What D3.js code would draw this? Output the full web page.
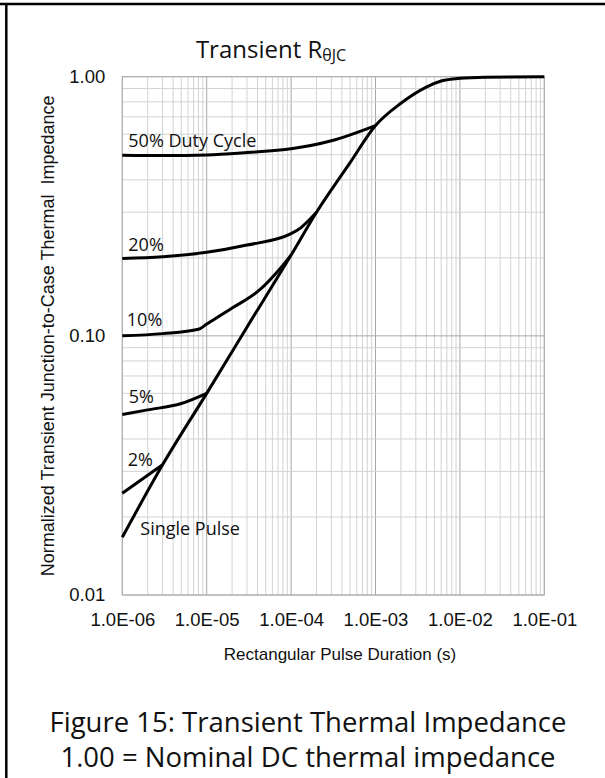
<!DOCTYPE html>
<html>
<head>
<meta charset="utf-8">
<script src="https://cdn.jsdelivr.net/npm/d3@7"></script>
<style>
  body { margin: 0; background: #fff; }
  .tick text { font-family: "Liberation Sans", Arial, sans-serif; fill: #111; }
</style>
</head>
<body>
<svg id="chart" width="605" height="778"></svg>
<script>
// tick values and their labels
var xTicks = [1e-6, 1e-5, 1e-4, 1e-3, 1e-2, 1e-1];
var xTickLabels = ["1.0E-06", "1.0E-05", "1.0E-04", "1.0E-03", "1.0E-02", "1.0E-01"];
var yTicks = [0.01, 0.1, 1];
var yTickLabels = ["0.01", "0.10", "1.00"];

// pulse duration (s) and normalized Zth
var singleT = [1e-6, 3e-6, 1e-5, 3e-5, 1e-4, 2e-4, 5e-4, 1e-3, 2e-3, 4e-3, 6e-3, 1e-2, 2e-2, 1e-1];
var singleZ = [0.0167, 0.0318, 0.060, 0.108, 0.205, 0.300, 0.466, 0.648, 0.790, 0.912, 0.962, 0.986, 0.996, 1.0];

var duty50T = [1e-6, 3e-6, 1e-5, 3e-5, 1e-4, 3e-4, 1e-3];
var duty50Z = [0.498, 0.496, 0.499, 0.510, 0.527, 0.566, 0.648];

var duty20T = [1e-6, 3e-6, 1e-5, 3e-5, 1e-4, 1.3e-4, 1.6e-4, 2e-4];
var duty20Z = [0.199, 0.202, 0.210, 0.224, 0.248, 0.261, 0.278, 0.300];

var duty10T = [1e-6, 3e-6, 8e-6, 1e-5, 2e-5, 4.3e-5, 7e-5, 1e-4];
var duty10Z = [0.100, 0.102, 0.106, 0.111, 0.128, 0.151, 0.178, 0.205];

var duty5T = [1e-6, 2e-6, 5e-6, 1e-5];
var duty5Z = [0.0497, 0.0518, 0.0548, 0.060];

var duty2T = [1e-6, 2e-6, 3e-6];
var duty2Z = [0.0247, 0.029, 0.0318];

var seriesNames = ["50% Duty Cycle", "20%", "10%", "5%", "2%", "Single Pulse"];

var series = [
  {name: seriesNames[0], t: duty50T, z: duty50Z, dx: 6, dy: -8},
  {name: seriesNames[1], t: duty20T, z: duty20Z, dx: 6, dy: -7},
  {name: seriesNames[2], t: duty10T, z: duty10Z, dx: 4.5, dy: -10},
  {name: seriesNames[3], t: duty5T, z: duty5Z, dx: 6.5, dy: -12},
  {name: seriesNames[4], t: duty2T, z: duty2Z, dx: 5.5, dy: -27},
  {name: seriesNames[5], t: singleT, z: singleZ, dx: 18, dy: -2}
];

var svg = d3.select("#chart");
var margin = {top: 76.7, left: 122.3};
var width = 422, height = 518.3;

// page frame (top and left rule)
svg.append("line").attr("x1", 0).attr("x2", 605).attr("y1", 4).attr("y2", 4)
  .attr("stroke", "#000").attr("stroke-width", 2.5);
svg.append("line").attr("x1", 6.3).attr("x2", 6.3).attr("y1", 3).attr("y2", 778)
  .attr("stroke", "#000").attr("stroke-width", 2.5);

var x = d3.scaleLog().domain([1e-6, 1e-1]).range([0, width]);
var y = d3.scaleLog().domain([0.01, 1]).range([height, 0]);

var g = svg.append("g").attr("transform", "translate(" + margin.left + "," + margin.top + ")");

function isMajor(v) {
  var l = Math.log10(v);
  return Math.abs(l - Math.round(l)) < 1e-9;
}

// grid
g.append("g").selectAll("line").data(x.ticks())
  .join("line")
  .attr("x1", d => x(d)).attr("x2", d => x(d))
  .attr("y1", 0).attr("y2", height)
  .attr("stroke", d => isMajor(d) ? "#a8a8a8" : "#d2d2d2")
  .attr("stroke-width", 1);
g.append("g").selectAll("line").data(y.ticks())
  .join("line")
  .attr("y1", d => y(d)).attr("y2", d => y(d))
  .attr("x1", 0).attr("x2", width)
  .attr("stroke", d => isMajor(d) ? "#a8a8a8" : "#d2d2d2")
  .attr("stroke-width", 1);
g.append("rect").attr("width", width).attr("height", height)
  .attr("fill", "none").attr("stroke", "#b0b0b0").attr("stroke-width", 1);

// axes (labels only)
var xAxis = d3.axisBottom(x).tickValues(xTicks).tickSize(0).tickPadding(18)
  .tickFormat((d, i) => xTickLabels[i]);
var gx = g.append("g").attr("transform", "translate(0," + height + ")").call(xAxis);
gx.select(".domain").remove();
gx.selectAll("text").attr("font-size", 18.5);

var yAxis = d3.axisLeft(y).tickValues(yTicks).tickSize(0).tickPadding(17)
  .tickFormat((d, i) => yTickLabels[i]);
var gy = g.append("g").call(yAxis);
gy.select(".domain").remove();
gy.selectAll("text").attr("font-size", 18.5);

// curves
var line = d3.line()
  .x(d => x(d[0]))
  .y(d => y(d[1]))
  .curve(d3.curveMonotoneX);

series.forEach(function(s) {
  var pts = s.t.map((t, i) => [t, s.z[i]]);
  g.append("path").datum(pts)
    .attr("d", line)
    .attr("fill", "none")
    .attr("stroke", "#000")
    .attr("stroke-width", 3)
    .attr("stroke-linejoin", "round");
  g.append("text")
    .attr("x", x(s.t[0]) + s.dx)
    .attr("y", y(s.z[0]) + s.dy)
    .attr("font-family", "'Open Sans', 'Noto Sans', sans-serif")
    .attr("font-size", 18)
    .attr("fill", "#111")
    .text(s.name);
});

// titles
var title = svg.append("text")
  .attr("x", 271).attr("y", 58)
  .attr("text-anchor", "middle")
  .attr("font-family", "'Open Sans', 'Noto Sans', sans-serif")
  .attr("font-size", 24)
  .attr("fill", "#111");
title.append("tspan").text("Transient R");
title.append("tspan").attr("font-size", 16).attr("dy", 3).text("θJC");

svg.append("text")
  .attr("x", 340).attr("y", 660)
  .attr("text-anchor", "middle")
  .attr("font-family", "'Liberation Sans', Arial, sans-serif")
  .attr("font-size", 17)
  .attr("fill", "#111")
  .text("Rectangular Pulse Duration (s)");

svg.append("text")
  .attr("transform", "translate(54," + (margin.top + height / 2) + ") rotate(-90)")
  .attr("text-anchor", "middle")
  .attr("font-family", "'Liberation Sans', Arial, sans-serif")
  .attr("font-size", 18)
  .attr("fill", "#111")
  .attr("xml:space", "preserve")
  .text("Normalized Transient Junction-to-Case Thermal  Impedance");

var caption = ["Figure 15: Transient Thermal Impedance", "1.00 = Nominal DC thermal impedance"];
svg.selectAll(".caption").data(caption).join("text")
  .attr("class", "caption")
  .attr("x", 308)
  .attr("y", (d, i) => 732 + i * 35)
  .attr("text-anchor", "middle")
  .attr("font-family", "'Open Sans', 'Noto Sans', sans-serif")
  .attr("font-size", 27.5)
  .attr("fill", "#111")
  .text(d => d);
</script>
</body>
</html>
